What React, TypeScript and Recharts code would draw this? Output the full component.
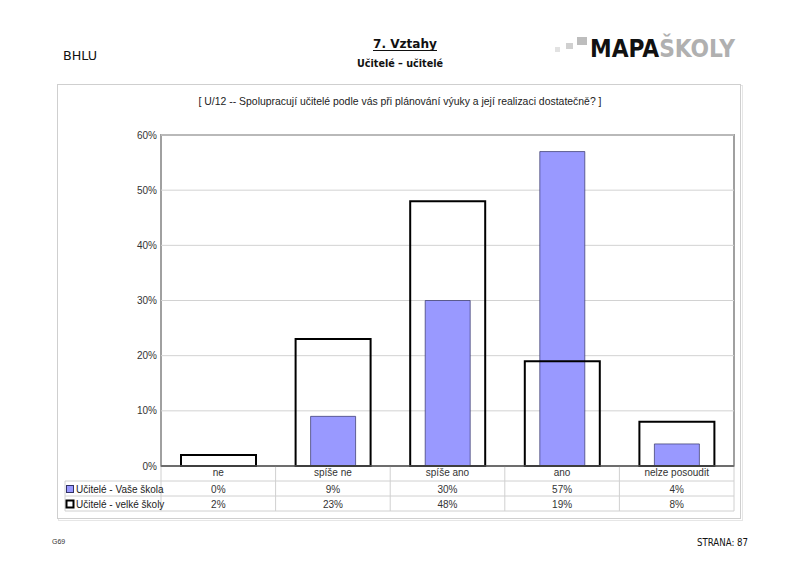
import React from 'react'
import { Bar, BarChart, CartesianGrid, XAxis, YAxis } from 'recharts'

const categories = ['ne', 'spíše ne', 'spíše ano', 'ano', 'nelze posoudit']
const vaseSkola = [0, 9, 30, 57, 4]
const velkeSkoly = [2, 23, 48, 19, 8]
const yTicks = [0, 10, 20, 30, 40, 50, 60]
const seriesNames = ['Učitelé - Vaše škola', 'Učitelé - velké školy']

const data = categories.map((cat, i) => ({ cat, vase: vaseSkola[i], velke: velkeSkoly[i] }))

// plot area in page coordinates
const PLOT_LEFT = 161
const PLOT_RIGHT = 734
const PLOT_TOP = 135
const PLOT_BOTTOM = 466
const ROW_H = 15
const TABLE_LEFT = 65
const font = "'Liberation Sans', Arial, sans-serif"
const narrow = "'Liberation Sans Narrow', 'DejaVu Sans Condensed', 'Liberation Sans', sans-serif"

const Background = () => {
    const colW = (PLOT_RIGHT - PLOT_LEFT) / categories.length
    const rows = [vaseSkola, velkeSkoly]
    const tableBottom = PLOT_BOTTOM + ROW_H * 3
    return (
        <svg width={800} height={565} style={{ position: 'absolute', left: 0, top: 0 }}>
            <rect x={0} y={0} width={800} height={565} fill="#fff" />
            {/* header */}
            <text x={63} y={60} fontFamily={narrow} fontSize={13} fill="#111" textLength={34} lengthAdjust="spacingAndGlyphs">BHLU</text>
            <text x={405} y={48} textAnchor="middle" fontFamily={narrow} fontWeight="bold" fontSize={13} fill="#111" textLength={64} lengthAdjust="spacingAndGlyphs">7. Vztahy</text>
            <line x1={373} x2={437} y1={50.5} y2={50.5} stroke="#111" strokeWidth={1} />
            <text x={400} y={67} textAnchor="middle" fontFamily={narrow} fontWeight="bold" fontSize={11} fill="#111" textLength={86} lengthAdjust="spacingAndGlyphs">Učitelé – učitelé</text>
            {/* logo */}
            <rect x={555} y={47} width={5} height={5} fill="#e2e2e2" />
            <rect x={566} y={43} width={7} height={6} fill="#d0d0d0" />
            <rect x={577} y={37} width={10} height={8} fill="#bdbdbd" />
            <text x={590} y={57} fontFamily="'DejaVu Sans Condensed', 'DejaVu Sans', sans-serif" fontWeight="bold" fontSize={24} textLength={145} lengthAdjust="spacingAndGlyphs">
                <tspan fill="#111">MAPA</tspan>
                <tspan fill="#b0b0b0">ŠKOLY</tspan>
            </text>
            {/* frame */}
            <rect x={58.5} y={85.5} width={684} height={435} fill="none" stroke="#e6e6e6" strokeWidth={1} />
            <rect x={57.5} y={84.5} width={683} height={434} fill="#fff" stroke="#cfcfcf" strokeWidth={1} />
            <text x={400} y={105} textAnchor="middle" fontFamily={font} fontSize={10.5} fill="#222" textLength={403} lengthAdjust="spacingAndGlyphs">
                [ U/12 --  Spolupracují učitelé podle vás při plánování výuky a její realizaci dostatečně? ]
            </text>
            {/* plot frame */}
            <rect x={PLOT_LEFT} y={PLOT_TOP} width={PLOT_RIGHT - PLOT_LEFT} height={PLOT_BOTTOM - PLOT_TOP} fill="none" stroke="#a0a0a0" strokeWidth={2} />
            {/* data table */}
            {[1, 2, 3].map(r => (
                <line key={'h' + r} x1={TABLE_LEFT} x2={PLOT_RIGHT} y1={PLOT_BOTTOM + ROW_H * r} y2={PLOT_BOTTOM + ROW_H * r} stroke="#d0d0d0" />
            ))}
            <line x1={TABLE_LEFT} x2={TABLE_LEFT} y1={PLOT_BOTTOM + ROW_H} y2={tableBottom} stroke="#d0d0d0" />
            {categories.map((_, i) => (
                <line key={'v' + i} x1={PLOT_LEFT + colW * i} x2={PLOT_LEFT + colW * i} y1={PLOT_BOTTOM} y2={tableBottom} stroke="#d0d0d0" />
            ))}
            <line x1={PLOT_RIGHT} x2={PLOT_RIGHT} y1={PLOT_BOTTOM} y2={tableBottom} stroke="#d0d0d0" />
            {rows.map((vals, r) => (
                <g key={'r' + r}>
                    <rect x={66.5} y={PLOT_BOTTOM + ROW_H * (r + 1) + 4.5} width={7} height={7}
                        fill={r === 0 ? '#9999ff' : '#fff'} stroke={r === 0 ? '#333366' : '#000'} strokeWidth={r === 0 ? 1 : 2} />
                    <text x={76} y={PLOT_BOTTOM + ROW_H * (r + 1) + 11.5} fontFamily={font} fontSize={10} fill="#222">{seriesNames[r]}</text>
                    {vals.map((v, i) => (
                        <text key={i} x={PLOT_LEFT + colW * (i + 0.5)} y={PLOT_BOTTOM + ROW_H * (r + 1) + 11.5} textAnchor="middle" fontFamily={font} fontSize={10} fill="#333">{v}%</text>
                    ))}
                </g>
            ))}
            {/* footer */}
            <text x={52} y={544} fontFamily={font} fontSize={7} fill="#333">G69</text>
            <text x={697} y={546} fontFamily={narrow} fontSize={11} fill="#111" textLength={51} lengthAdjust="spacingAndGlyphs">STRANA: 87</text>
        </svg>
    )
}

const App = () => {
    return (
        <div style={{ position: 'absolute', left: 0, top: 0, width: 800, height: 565, background: '#fff' }}>
            <Background />
            <div style={{ position: 'absolute', left: 0, top: 0 }}>
                <BarChart
                    width={800}
                    height={565}
                    data={data}
                    margin={{ top: PLOT_TOP, right: 800 - PLOT_RIGHT, left: PLOT_LEFT - 40, bottom: 565 - PLOT_BOTTOM - ROW_H }}
                >
                    <CartesianGrid vertical={false} stroke="#d2d2d2" />
                    <XAxis
                        xAxisId="a"
                        dataKey="cat"
                        height={ROW_H}
                        tickLine={false}
                        tickSize={0}
                        tickMargin={3}
                        interval={0}
                        axisLine={{ stroke: '#555', strokeWidth: 1.5 }}
                        tick={{ fontSize: 10, fill: '#333', fontFamily: font }}
                    />
                    <XAxis xAxisId="b" dataKey="cat" hide />
                    <YAxis
                        width={40}
                        domain={[0, 60]}
                        ticks={yTicks}
                        interval={0}
                        tickFormatter={v => `${v}%`}
                        axisLine={false}
                        tickLine={false}
                        tickSize={0}
                        tickMargin={4}
                        tick={{ fontSize: 10, fill: '#333', fontFamily: font }}
                    />
                    <Bar xAxisId="a" dataKey="vase" barSize={45} fill="#9999ff" stroke="#333366" strokeWidth={0.7} isAnimationActive={false} />
                    <Bar xAxisId="b" dataKey="velke" barSize={75} fill="none" stroke="#000" strokeWidth={2} isAnimationActive={false} />
                </BarChart>
            </div>
        </div>
    )
}

export default App
